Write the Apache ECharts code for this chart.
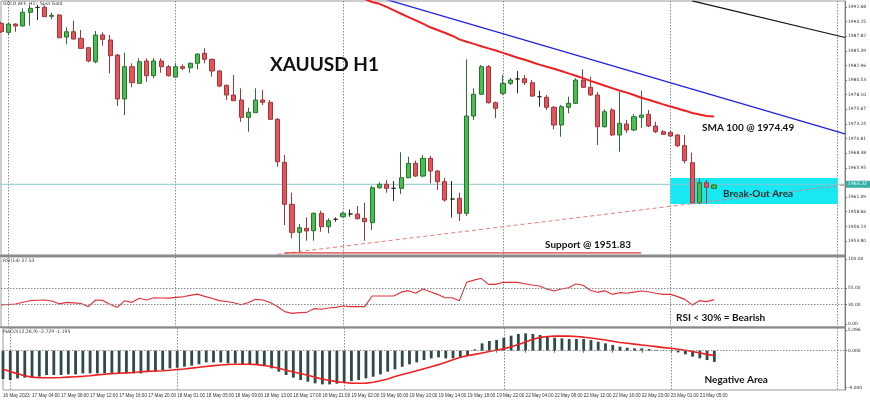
<!DOCTYPE html>
<html><head><meta charset="utf-8">
<script src="https://cdn.jsdelivr.net/npm/echarts@6/dist/echarts.min.js"></script>
<style>html,body{margin:0;padding:0;background:#fff}#c{width:870px;height:400px}</style>
</head><body><div id="c"></div>
<script>
// ---------- data ----------
const tickIndex = [0,4,8,12,16,20,24,28,32,36,40,44,48,52,56,60,64,68,72,76,80,84,88,92,96];
const tickText = ["16 May 2023","17 May 04:00","17 May 08:00","17 May 12:00","17 May 16:00","17 May 20:00",
  "18 May 01:00","18 May 05:00","18 May 09:00","18 May 13:00","18 May 17:00","18 May 21:00",
  "19 May 02:00","19 May 06:00","19 May 10:00","19 May 14:00","19 May 18:00","19 May 22:00",
  "22 May 04:00","22 May 08:00","22 May 12:00","22 May 16:00","22 May 20:00","23 May 01:00","23 May 05:00"];
const dayLineIndex = [1,24,47,69,92,115];
const slotCount = 117;

const openP = [1989.96,1988.46,1989.84,1989.51,1991.79,1992.60,1992.62,1991.12,1991.34,1987.68,
  1988.56,1987.47,1985.91,1983.58,1988.02,1987.19,1984.69,1977.39,1982.75,1979.99,
  1983.70,1981.26,1983.70,1982.75,1981.04,1982.75,1982.58,1983.32,1984.98,1983.98,
  1982.04,1979.66,1978.05,1977.22,1974.34,1975.11,1977.22,1976.84,1974.01,1966.87,
  1959.89,1955.24,1955.91,1955.51,1958.40,1956.17,1957.40,1957.83,1958.28,1958.28,
  1957.57,1956.84,1962.65,1963.22,1962.55,1962.55,1964.31,1966.70,1964.59,1967.53,
  1965.42,1963.65,1960.77,1960.89,1958.40,1974.56,1978.17,1982.75,1976.77,1978.33,
  1979.99,1980.71,1980.76,1980.09,1977.77,1977.67,1976.01,1973.07,1976.01,1976.67,
  1980.54,1979.33,1978.05,1972.78,1975.56,1971.41,1973.23,1972.24,1974.34,1974.84,
  1972.90,1971.95,1971.85,1971.41,1969.63,1966.80,1960.16,1963.48,1962.55];
const closeP = [1988.56,1989.84,1989.51,1991.79,1992.45,1992.60,1991.06,1991.29,1987.57,1988.56,
  1987.35,1985.81,1983.70,1988.02,1987.30,1984.58,1977.39,1982.75,1980.09,1983.58,
  1981.26,1983.70,1982.75,1981.26,1982.75,1982.48,1983.32,1984.86,1983.98,1982.04,
  1979.54,1978.05,1977.10,1974.34,1975.18,1977.22,1976.84,1974.01,1966.97,1959.89,
  1955.24,1956.01,1955.46,1958.40,1956.17,1957.17,1957.40,1958.40,1958.28,1957.50,
  1957.00,1962.65,1963.22,1962.55,1962.55,1964.31,1966.70,1964.59,1967.53,1965.42,
  1963.65,1960.61,1960.77,1958.40,1974.56,1978.17,1982.75,1976.77,1975.84,1979.99,
  1980.54,1980.71,1980.09,1977.88,1977.77,1976.01,1973.07,1976.11,1976.67,1980.54,
  1979.33,1978.05,1972.78,1975.28,1971.41,1973.35,1972.24,1974.44,1974.73,1972.90,
  1971.95,1971.52,1971.24,1969.63,1967.14,1960.16,1963.48,1962.72,1963.10];
const lowP = [1988.35,1988.02,1988.56,1989.43,1989.56,1990.51,1991.01,1990.62,1987.47,1986.47,
  1987.27,1985.69,1983.48,1983.32,1986.24,1981.65,1976.27,1974.73,1979.33,1979.88,
  1980.26,1980.82,1981.75,1981.12,1980.96,1982.20,1981.75,1982.32,1983.32,1981.09,
  1979.33,1977.22,1977.05,1973.61,1971.95,1975.06,1976.39,1973.90,1966.14,1956.45,
  1954.25,1951.85,1953.85,1953.85,1955.34,1955.08,1957.00,1957.73,1957.83,1957.37,
  1953.85,1955.62,1962.52,1961.82,1960.44,1961.60,1964.26,1964.43,1964.38,1963.38,
  1962.27,1960.33,1957.67,1957.12,1957.95,1973.90,1978.05,1976.64,1974.18,1978.05,
  1979.71,1978.33,1979.71,1977.72,1976.11,1975.56,1972.35,1971.12,1975.01,1976.56,
  1979.21,1977.88,1969.74,1972.65,1971.24,1968.63,1971.74,1972.07,1972.57,1972.73,
  1971.74,1971.41,1971.07,1969.41,1966.70,1960.03,1960.06,1960.06,1962.44];
const highP = [1990.18,1990.01,1989.93,1992.45,1993.00,1993.00,1992.92,1991.72,1991.50,1989.30,
  1990.39,1988.85,1986.02,1988.68,1988.46,1988.02,1984.86,1985.08,1983.32,1984.15,
  1984.15,1984.15,1984.15,1983.03,1983.32,1983.15,1983.45,1984.94,1985.81,1984.11,
  1982.20,1979.79,1981.37,1979.16,1975.94,1979.16,1978.88,1977.22,1974.23,1968.08,
  1961.82,1956.62,1957.73,1958.53,1958.83,1957.57,1957.73,1958.67,1959.06,1959.61,
  1960.16,1962.98,1963.55,1963.93,1963.76,1968.53,1967.80,1967.14,1968.08,1967.92,
  1965.59,1964.26,1963.76,1961.82,1983.98,1979.16,1983.03,1983.03,1976.97,1981.37,
  1980.87,1982.04,1981.37,1980.54,1978.76,1978.05,1976.22,1976.39,1977.77,1980.82,
  1982.32,1981.09,1978.55,1975.67,1975.89,1978.60,1973.90,1974.89,1978.76,1975.56,
  1973.61,1972.24,1972.07,1971.57,1971.41,1968.47,1964.21,1963.93,1963.27];

const sma100 = [null,null,null,null,null,null,null,null,null,null,
  null,null,null,null,null,null,null,null,null,null,
  null,null,null,null,null,null,null,null,null,null,
  null,null,null,null,null,null,null,null,null,null,
  null,null,null,null,null,null,null,null,null,null,
  1994.0,1993.5,1993.2,1992.7,1992.1,1991.55,1991.0,1990.45,1989.9,1989.3,
  1988.85,1988.4,1987.9,1987.3,1986.9,1986.55,1986.15,1985.8,1985.45,1985.05,
  1984.65,1984.25,1983.9,1983.5,1983.1,1982.75,1982.4,1982.05,1981.65,1981.25,
  1980.85,1980.4,1980.0,1979.6,1979.2,1978.8,1978.45,1978.05,1977.6,1977.25,
  1976.9,1976.5,1976.15,1975.8,1975.45,1975.05,1974.8,1974.55,1974.49];

const rsi14 = [29.5,30,30.8,33.5,35.9,36.5,36.9,35.5,31,33.3,
  32.5,31.5,26.7,36.9,36.3,30,25.6,35.9,33.3,39.5,
  36.9,40.5,40,39.8,41,41.8,44,46,42.5,39.5,
  36,34.5,32.8,29.7,33,37.9,36.9,33,27,19,
  16.4,17.5,17.9,23.6,22.8,24.5,25.6,27.7,26.7,26.7,
  26.7,43.1,43.1,43.1,43.1,49,51.3,47.2,53.8,49.7,
  45.6,40.5,40.5,35.9,64.1,67.5,70.3,61.0,61.0,64.1,
  64.1,64.1,62,60,58.5,54,50.8,53.8,55.9,61.5,
  59.5,52,48.7,51.3,45.6,48.2,47.2,49,50.8,49.7,
  47.2,45.6,45.6,42.1,37.9,29.2,35.9,34.4,37.53];

const macdMain = [-6.91,-7.15,-6.75,-6.58,-6.58,-6.34,-5.93,-5.93,-5.93,-5.77,
  -5.77,-5.53,-5.53,-5.53,-5.53,-5.53,-5.53,-5.53,-5.53,-5.53,
  -5.12,-5.12,-4.72,-4.31,-4.15,-3.90,-3.66,-3.33,-2.85,-2.85,
  -2.85,-3.09,-3.09,-3.33,-3.49,-3.49,-3.74,-4.31,-5.12,-5.93,
  -6.58,-7.15,-7.56,-7.97,-8.21,-8.21,-8.05,-7.72,-7.40,-7.15,
  -6.75,-6.34,-5.77,-5.12,-4.55,-3.90,-3.33,-2.85,-2.27,-1.87,
  -1.63,-1.87,-1.87,-1.71,-1.06,0.33,1.79,2.36,2.60,3.17,
  3.66,4.07,4.23,4.07,3.82,3.42,3.17,3.01,2.85,2.85,
  2.85,2.60,2.20,1.79,1.38,0.98,0.73,0.57,0.57,0.41,
  0.16,0.05,-0.08,-0.41,-0.90,-1.46,-1.87,-2.27,-2.729];
const macdSignal = [-4.5,-5.1,-5.6,-6.1,-6.45,-6.6,-6.6,-6.6,-6.55,-6.45,
  -6.35,-6.25,-6.1,-5.9,-5.75,-5.6,-5.5,-5.4,-5.3,-5.15,
  -5.05,-4.95,-4.88,-4.75,-4.6,-4.45,-4.25,-4.05,-3.85,-3.65,
  -3.5,-3.38,-3.32,-3.3,-3.3,-3.4,-3.6,-3.9,-4.3,-4.75,
  -5.2,-5.55,-6.0,-6.5,-6.9,-7.25,-7.55,-7.75,-7.9,-7.95,
  -7.9,-7.7,-7.35,-6.9,-6.3,-5.8,-5.4,-4.9,-4.4,-3.9,
  -3.4,-2.8,-2.2,-1.6,-1.2,-0.9,-0.55,-0.2,0.15,0.45,
  0.95,1.5,2.1,2.8,3.25,3.45,3.55,3.6,3.55,3.45,
  3.3,3.1,2.85,2.6,2.3,2.0,1.8,1.6,1.4,1.2,
  1.0,0.75,0.59,0.35,0.1,-0.2,-0.55,-0.9,-1.195];

const priceTicks = [1953.80,1956.23,1958.66,1961.09,1963.52,1965.95,1968.38,1970.81,1973.24,
  1975.67,1978.10,1980.53,1982.96,1985.39,1987.82,1990.25,1992.68];
const rsiTicks = [0,30,55,100];
const rsiLevels = [30,55];
const macdTicks = [-9.0,0,5.096];
const bidPrice = 1963.22;
const supportPrice = 1951.83;
const breakoutFrom = [92,1959.94], breakoutTo = [115,1964.26];
const blueTrend = [[53,1993.9],[116,1971.6]];
const blackTrend = [[95,1993.7],[116,1987.6]];
const risingTrend = [[38,1951.6],[116,1963.1]];
const supportLine = [[39,supportPrice],[88,supportPrice]];

// ---------- chart ----------
const cats = Array.from({length: slotCount}, (_, i) => String(i));
const candles = openP.map((o, i) => [o, closeP[i], lowP[i], highP[i]]);

const L = 1, R = 25;
const grids = [
  {left: L, right: R, top: 1, height: 255},
  {left: L, right: R, top: 257, height: 70},
  {left: L, right: R, top: 328, height: 62}
].map(g => Object.assign(g, {show: true, borderColor: '#9a9a9a', borderWidth: 1, containLabel: false}));

function xAx(gi, showLabels) {
  return {
    type: 'category', gridIndex: gi, data: cats, boundaryGap: false,
    axisLine: {show: false},
    axisTick: showLabels ? {show: true, length: 2, lineStyle: {color: '#666'},
      interval: (i) => tickIndex.includes(i)} : {show: false},
    axisLabel: showLabels ? {show: true, interval: (i) => tickIndex.includes(i), align: 'left',
      showMinLabel: true, showMaxLabel: true, hideOverlap: false,
      margin: 3, fontSize: 4.6, color: '#333', fontFamily: 'Liberation Sans',
      formatter: (v, i) => tickText[tickIndex.indexOf(Number(v))] || ''} : {show: false},
    splitLine: {show: true, interval: (i) => dayLineIndex.includes(i),
      lineStyle: {color: '#8c8c8c', type: [1.5, 1.5], width: 1}}
  };
}
function yAx(gi, min, max, ticks, dec) {
  return {
    type: 'value', gridIndex: gi, position: 'right', min: min, max: max, scale: true,
    splitLine: {show: false},
    axisLine: {show: true, lineStyle: {color: '#7a7a7a'}},
    axisTick: {show: true, length: 2, customValues: ticks, lineStyle: {color: '#777'}},
    axisLabel: {show: true, customValues: ticks, margin: 3, fontSize: 4.4, color: '#333',
      fontFamily: 'DejaVu Sans', formatter: (v) => Number(v).toFixed(dec)}
  };
}

const annFont = 'bold 10px Lato';
const option = {
  animation: false,
  backgroundColor: '#ffffff',
  grid: grids,
  xAxis: [xAx(0, false), xAx(1, false), xAx(2, true)],
  yAxis: [
    yAx(0, 1951.308, 1993.667, priceTicks, 2),
    yAx(1, -4.615, 103.08, rsiTicks, 2),
    yAx(2, -9.585, 5.537, macdTicks, 3)
  ],
  series: [
    { type: 'line', xAxisIndex: 0, yAxisIndex: 0, z: 1, data: [], silent: true,
      markArea: { silent: true, itemStyle: {color: '#17e8f2', opacity: 1},
        data: [[{coord: breakoutFrom}, {coord: breakoutTo}]] } },
    { type: 'line', xAxisIndex: 0, yAxisIndex: 0, z: 2, symbol: 'none',
      data: [[0, bidPrice], [slotCount - 1, bidPrice]],
      lineStyle: {color: '#86c9cc', width: 1},
      endLabel: {show: true, formatter: bidPrice.toFixed(2), distance: 1, fontSize: 4.6,
        color: '#ffffff', backgroundColor: '#35b0a8', padding: [1, 3, 1, 2], fontFamily: 'DejaVu Sans'} },
    { type: 'candlestick', xAxisIndex: 0, yAxisIndex: 0, z: 3, data: candles, barWidth: 4.6,
      itemStyle: {color: '#44c14c', color0: '#e4555b', borderColor: '#2c6f30', borderColor0: '#a3343a',
        borderColorDoji: '#2a2a2a', borderWidth: 1} },
    { type: 'line', xAxisIndex: 0, yAxisIndex: 0, z: 4, symbol: 'none', data: sma100,
      lineStyle: {color: '#ee2020', width: 2} },
    { type: 'line', xAxisIndex: 0, yAxisIndex: 0, z: 4, symbol: 'none', data: blueTrend,
      lineStyle: {color: '#1f1fdc', width: 1.2} },
    { type: 'line', xAxisIndex: 0, yAxisIndex: 0, z: 4, symbol: 'none', data: blackTrend,
      lineStyle: {color: '#111111', width: 1.2} },
    { type: 'line', xAxisIndex: 0, yAxisIndex: 0, z: 4, symbol: 'none', data: risingTrend,
      lineStyle: {color: '#ee7777', width: 1, type: [4, 3]} },
    { type: 'line', xAxisIndex: 0, yAxisIndex: 0, z: 4, symbol: 'none', data: supportLine,
      lineStyle: {color: '#e23a3a', width: 1.3} },
    { type: 'line', xAxisIndex: 1, yAxisIndex: 1, z: 4, symbol: 'none', data: rsi14,
      lineStyle: {color: '#e0303a', width: 1.1},
      markLine: {silent: true, symbol: 'none', label: {show: false},
        lineStyle: {color: '#8a8a8a', type: [1.5, 1.5], width: 1},
        data: rsiLevels.map(v => ({yAxis: v}))} },
    { type: 'bar', xAxisIndex: 2, yAxisIndex: 2, z: 3, data: macdMain, barWidth: 2.8,
      itemStyle: {color: '#2f4b48'},
      markLine: {silent: true, symbol: 'none', label: {show: false},
        lineStyle: {color: '#8a8a8a', type: [1.5, 1.5], width: 1},
        data: [{yAxis: 0}]} },
    { type: 'line', xAxisIndex: 2, yAxisIndex: 2, z: 4, symbol: 'none', data: macdSignal,
      lineStyle: {color: '#ee2020', width: 1.6} }
  ],
  graphic: [
    {type: 'rect', shape: {x: 0, y: 254.5, width: 846, height: 2.5}, style: {fill: '#8a8a8a'}, z: 50},
    {type: 'rect', shape: {x: 0, y: 326.5, width: 846, height: 1.8}, style: {fill: '#8a8a8a'}, z: 50},
    {type: 'text', z: 60, style: {text: 'GOLD.AFF, H1:  Spot Gold', x: 3, y: 4, font: '4.6px DejaVu Sans', fill: '#333', verticalAlign: 'middle'}},
    {type: 'text', z: 60, style: {text: 'RSI(14) 37.53', x: 3, y: 260.7, font: '4.6px DejaVu Sans', fill: '#333', verticalAlign: 'middle'}},
    {type: 'text', z: 60, style: {text: 'MACD(12,26,9) -2.729 -1.195', x: 3, y: 331.5, font: '4.6px DejaVu Sans', fill: '#333', verticalAlign: 'middle'}},
    {type: 'text', z: 60, style: {text: 'XAUUSD H1', x: 270, y: 65, font: 'bold 19px Lato', fill: '#111', verticalAlign: 'middle'}},
    {type: 'text', z: 60, style: {text: 'SMA 100 @ 1974.49', x: 702, y: 127.3, font: annFont, fill: '#111', verticalAlign: 'middle'}},
    {type: 'text', z: 60, style: {text: 'Break-Out Area', x: 723, y: 193.8, font: annFont, fill: '#143434', verticalAlign: 'middle'}},
    {type: 'text', z: 60, style: {text: 'Support @ 1951.83', x: 545, y: 245, font: annFont, fill: '#111', verticalAlign: 'middle'}},
    {type: 'text', z: 60, style: {text: 'RSI < 30% = Bearish', x: 676, y: 317.8, font: annFont, fill: '#111', verticalAlign: 'middle'}},
    {type: 'text', z: 60, style: {text: 'Negative Area', x: 704.5, y: 379.8, font: annFont, fill: '#111', verticalAlign: 'middle'}}
  ]
};
const chart = echarts.init(document.getElementById('c'), null, {renderer: 'canvas'});
chart.setOption(option);
</script></body></html>
